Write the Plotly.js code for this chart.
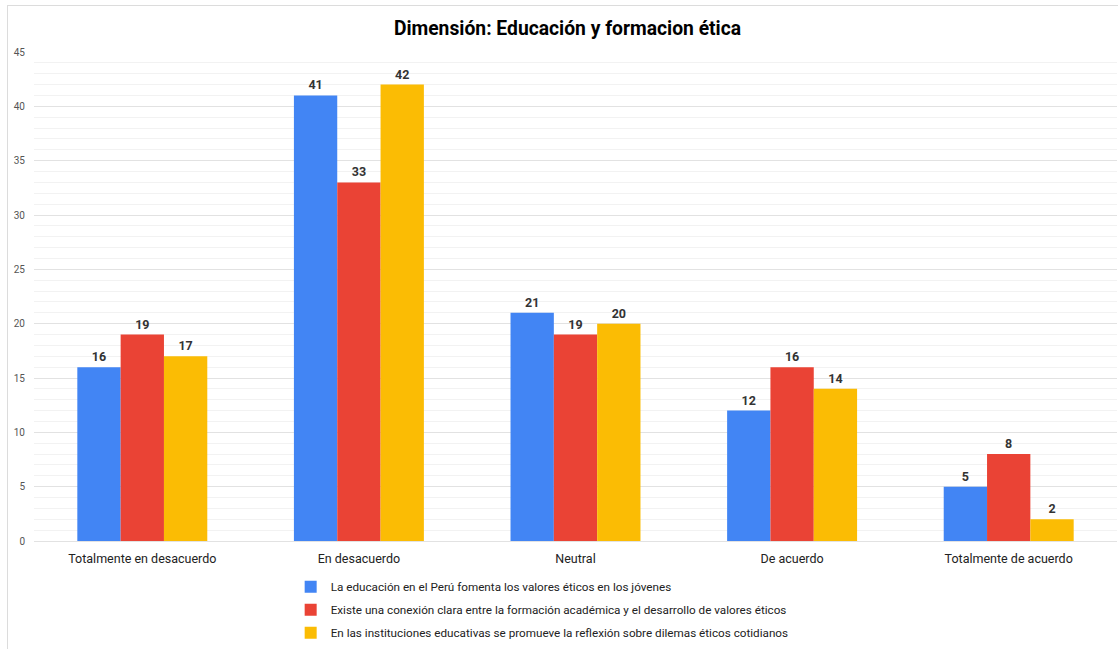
<!DOCTYPE html>
<html>
<head>
<meta charset="utf-8">
<script src="https://cdn.plot.ly/plotly-3.0.1.min.js"></script>
<style>
  html, body { margin: 0; padding: 0; background: #fff; }
  #chart { width: 1118px; height: 649px; }
  #frame { position: absolute; left: 7px; top: 5px; width: 1111px; height: 644px;
           border-top: 1px solid #dcdcdc; border-left: 1px solid #dcdcdc; pointer-events: none; }
</style>
</head>
<body>
<div id="chart"></div>
<div id="frame"></div>
<script>
const categories = ["Totalmente en desacuerdo", "En desacuerdo", "Neutral", "De acuerdo", "Totalmente de acuerdo"];
const seriesNames = [
  "La educación en el Perú fomenta los valores éticos en los jóvenes",
  "Existe una conexión clara entre la formación académica y el desarrollo de valores éticos",
  "En las instituciones educativas se promueve la reflexión sobre dilemas éticos cotidianos"
];
const valoresEticos = [16, 41, 21, 12, 5];
const conexionClara = [19, 33, 19, 16, 8];
const reflexionDilemas = [17, 42, 20, 14, 2];
const colors = ["#4285F4", "#EA4335", "#FBBC04"];
const allSeries = [valoresEticos, conexionClara, reflexionDilemas];

const traces = allSeries.map((vals, i) => ({
  type: "bar",
  name: seriesNames[i],
  x: categories,
  y: vals,
  marker: { color: colors[i] },
  text: vals.map(String),
  texttemplate: "<b>%{text}</b>",
  textposition: "outside",
  cliponaxis: false,
  textfont: { family: "Roboto, Arial, sans-serif", size: 12.5, color: "#333333" },
  legendgroup: "g" + i,
  hoverinfo: "skip"
}));

const layout = {
  width: 1118,
  height: 649,
  paper_bgcolor: "#ffffff",
  plot_bgcolor: "#ffffff",
  margin: { l: 34, r: 1, t: 52, b: 108, autoexpand: false },
  barmode: "group",
  bargap: 0.4,
  bargroupgap: 0,
  font: { family: "Roboto, Arial, sans-serif", color: "#222222" },
  title: {
    text: "<b>Dimensión: Educación y formacion ética</b>",
    font: { family: "Roboto, Arial, sans-serif", size: 19.3, color: "#000000" },
    x: 0.4926, xanchor: "center", xref: "paper",
    y: 0.957, yanchor: "middle", yref: "container"
  },
  xaxis: {
    type: "category",
    showgrid: false,
    zeroline: false,
    showline: false,
    ticks: "",
    ticklabelstandoff: 8,
    tickfont: { size: 12.5, color: "#222222" },
    fixedrange: true
  },
  yaxis: {
    range: [0, 45],
    dtick: 5,
    tick0: 0,
    showgrid: true,
    gridcolor: "#e2e2e2",
    gridwidth: 1,
    zeroline: true,
    zerolinecolor: "#e2e2e2",
    showline: false,
    ticks: "",
    ticklabelstandoff: 8,
    tickfont: { size: 10, color: "#555555" },
    minor: { dtick: 1, showgrid: true, gridcolor: "#f2f2f2", gridwidth: 1 },
    fixedrange: true
  },
  showlegend: true,
  legend: {
    orientation: "v",
    x: 0.237, xanchor: "left", xref: "paper",
    y: -0.064, yanchor: "top", yref: "paper",
    traceorder: "grouped",
    tracegroupgap: 4,
    font: { size: 11.7, color: "#222222" },
    bgcolor: "rgba(0,0,0,0)"
  }
};

Plotly.newPlot("chart", traces, layout, { staticPlot: true, displayModeBar: false });
</script>
</body>
</html>
